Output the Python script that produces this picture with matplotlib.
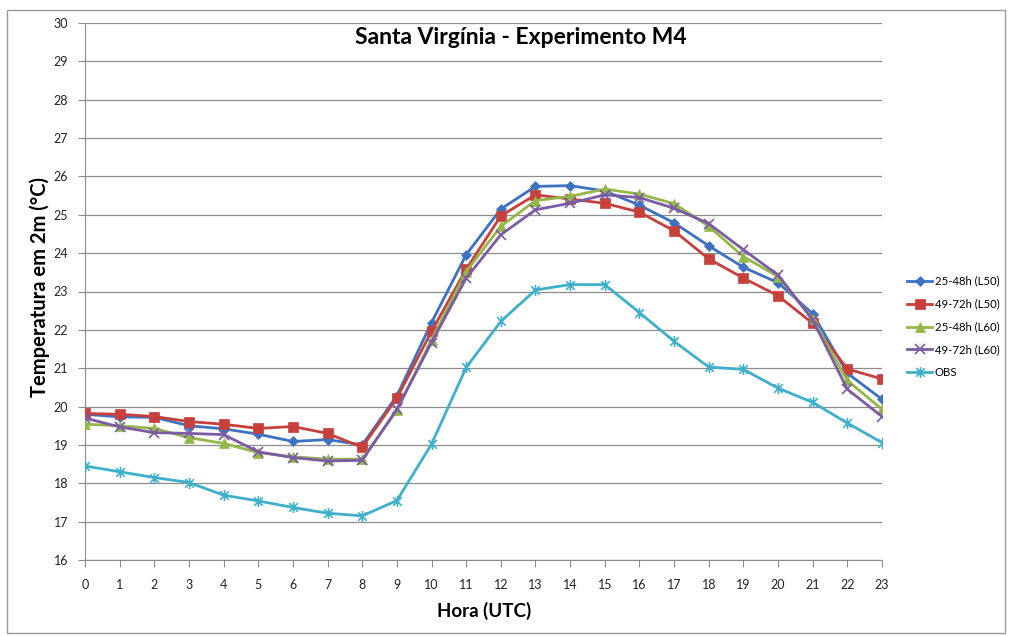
import numpy as np
import matplotlib.pyplot as plt
from matplotlib.path import Path
from matplotlib.patches import Rectangle

# horas (UTC) e temperaturas
hora = list(range(24))
t_25_48_L50 = [19.80, 19.73, 19.72, 19.50, 19.42, 19.28, 19.09, 19.14, 19.00,
               20.28, 22.19, 23.96, 25.15, 25.74, 25.76, 25.62, 25.25, 24.79,
               24.19, 23.63, 23.23, 22.42, 20.87, 20.19]
t_49_72_L50 = [19.82, 19.80, 19.74, 19.61, 19.54, 19.43, 19.48, 19.30, 18.94,
               20.22, 21.96, 23.58, 24.97, 25.52, 25.41, 25.30, 25.07, 24.58,
               23.85, 23.35, 22.89, 22.17, 20.98, 20.72]
t_25_48_L60 = [19.54, 19.50, 19.43, 19.19, 19.04, 18.80, 18.69, 18.63, 18.63,
               19.90, 21.74, 23.52, 24.70, 25.37, 25.48, 25.67, 25.54, 25.29,
               24.70, 23.91, 23.39, 22.28, 20.68, 19.93]
t_49_72_L60 = [19.70, 19.47, 19.32, 19.30, 19.27, 18.82, 18.67, 18.58, 18.60,
               19.93, 21.67, 23.35, 24.48, 25.13, 25.30, 25.52, 25.45, 25.17,
               24.77, 24.09, 23.43, 22.26, 20.45, 19.74]
t_obs = [18.45, 18.30, 18.15, 18.02, 17.69, 17.54, 17.37, 17.22, 17.15,
         17.55, 19.02, 21.02, 22.22, 23.04, 23.18, 23.18, 22.45, 21.70,
         21.03, 20.97, 20.48, 20.11, 19.57, 19.06]

nomes = ["25-48h (L50)", "49-72h (L50)", "25-48h (L60)", "49-72h (L60)", "OBS"]
series = [t_25_48_L50, t_49_72_L50, t_25_48_L60, t_49_72_L60, t_obs]
cores = ["#3d72c2", "#c8403c", "#93b847", "#7b5ba3", "#3fb0cc"]

# marcador estrela do excel (x com traco vertical)
estrela = Path([(-1, -1), (1, 1), (-1, 1), (1, -1), (0, -1.3), (0, 1.3)],
               [Path.MOVETO, Path.LINETO, Path.MOVETO, Path.LINETO, Path.MOVETO, Path.LINETO])
marcadores = ["D", "s", "^", "x", estrela]
tamanhos = [5, 7, 7, 7, 8]

plt.rcParams['font.family'] = ['Lato', 'DejaVu Sans']

fig = plt.figure(figsize=(10.09, 6.36), dpi=100)
ax = fig.add_axes([85/1009, 1-560/636, 797/1009, 537/636])

for y, nome, cor, mk, ms in zip(series, nomes, cores, marcadores, tamanhos):
    ax.plot(hora, y, color=cor, lw=2, marker=mk, markersize=ms,
            markeredgewidth=1.2 if mk in ("x",) or mk is estrela else 0.5,
            markeredgecolor=cor, label=nome, zorder=3)

ax.set_xlim(0, 23)
ax.set_ylim(16, 30)
ax.set_xticks(hora)
ax.set_yticks(np.arange(16, 31, 1))
ax.grid(axis='y', color='#8c8c8c', lw=0.9)
ax.set_axisbelow(True)
for s in ["top", "right"]:
    ax.spines[s].set_visible(False)
for s in ["left", "bottom"]:
    ax.spines[s].set_color('#8c8c8c')
ax.tick_params(axis='both', colors='#8c8c8c', labelcolor='#222222', labelsize=9, length=5)
ax.tick_params(axis='x', pad=9)
ax.tick_params(axis='y', pad=7)

fig.text(521/1009, 1-38/636, "Santa Virgínia - Experimento M4", ha='center', va='center',
         fontsize=16.5, fontweight='bold')
fig.text(40/1009, 1-287/636, "Temperatura em 2m (°C)", rotation=90, ha='center', va='center',
         fontsize=14.5, fontweight='bold')
fig.text(484/1009, 1-611/636, "Hora (UTC)", ha='center', va='center',
         fontsize=13.5, fontweight='bold')

leg = ax.legend(loc='center left', frameon=False, fontsize=8.2, handlelength=2.2,
                handletextpad=0.25, labelspacing=1.05, borderpad=0, borderaxespad=0)
leg.set_bbox_to_anchor((907/1009, 1-327/636), transform=fig.transFigure)

fig.patches.append(Rectangle((7/1009, 3/636), 998/1009, 623/636, transform=fig.transFigure,
                             fill=False, edgecolor='#9a9a9a', lw=1))

fig.savefig("out.png", dpi=100)
